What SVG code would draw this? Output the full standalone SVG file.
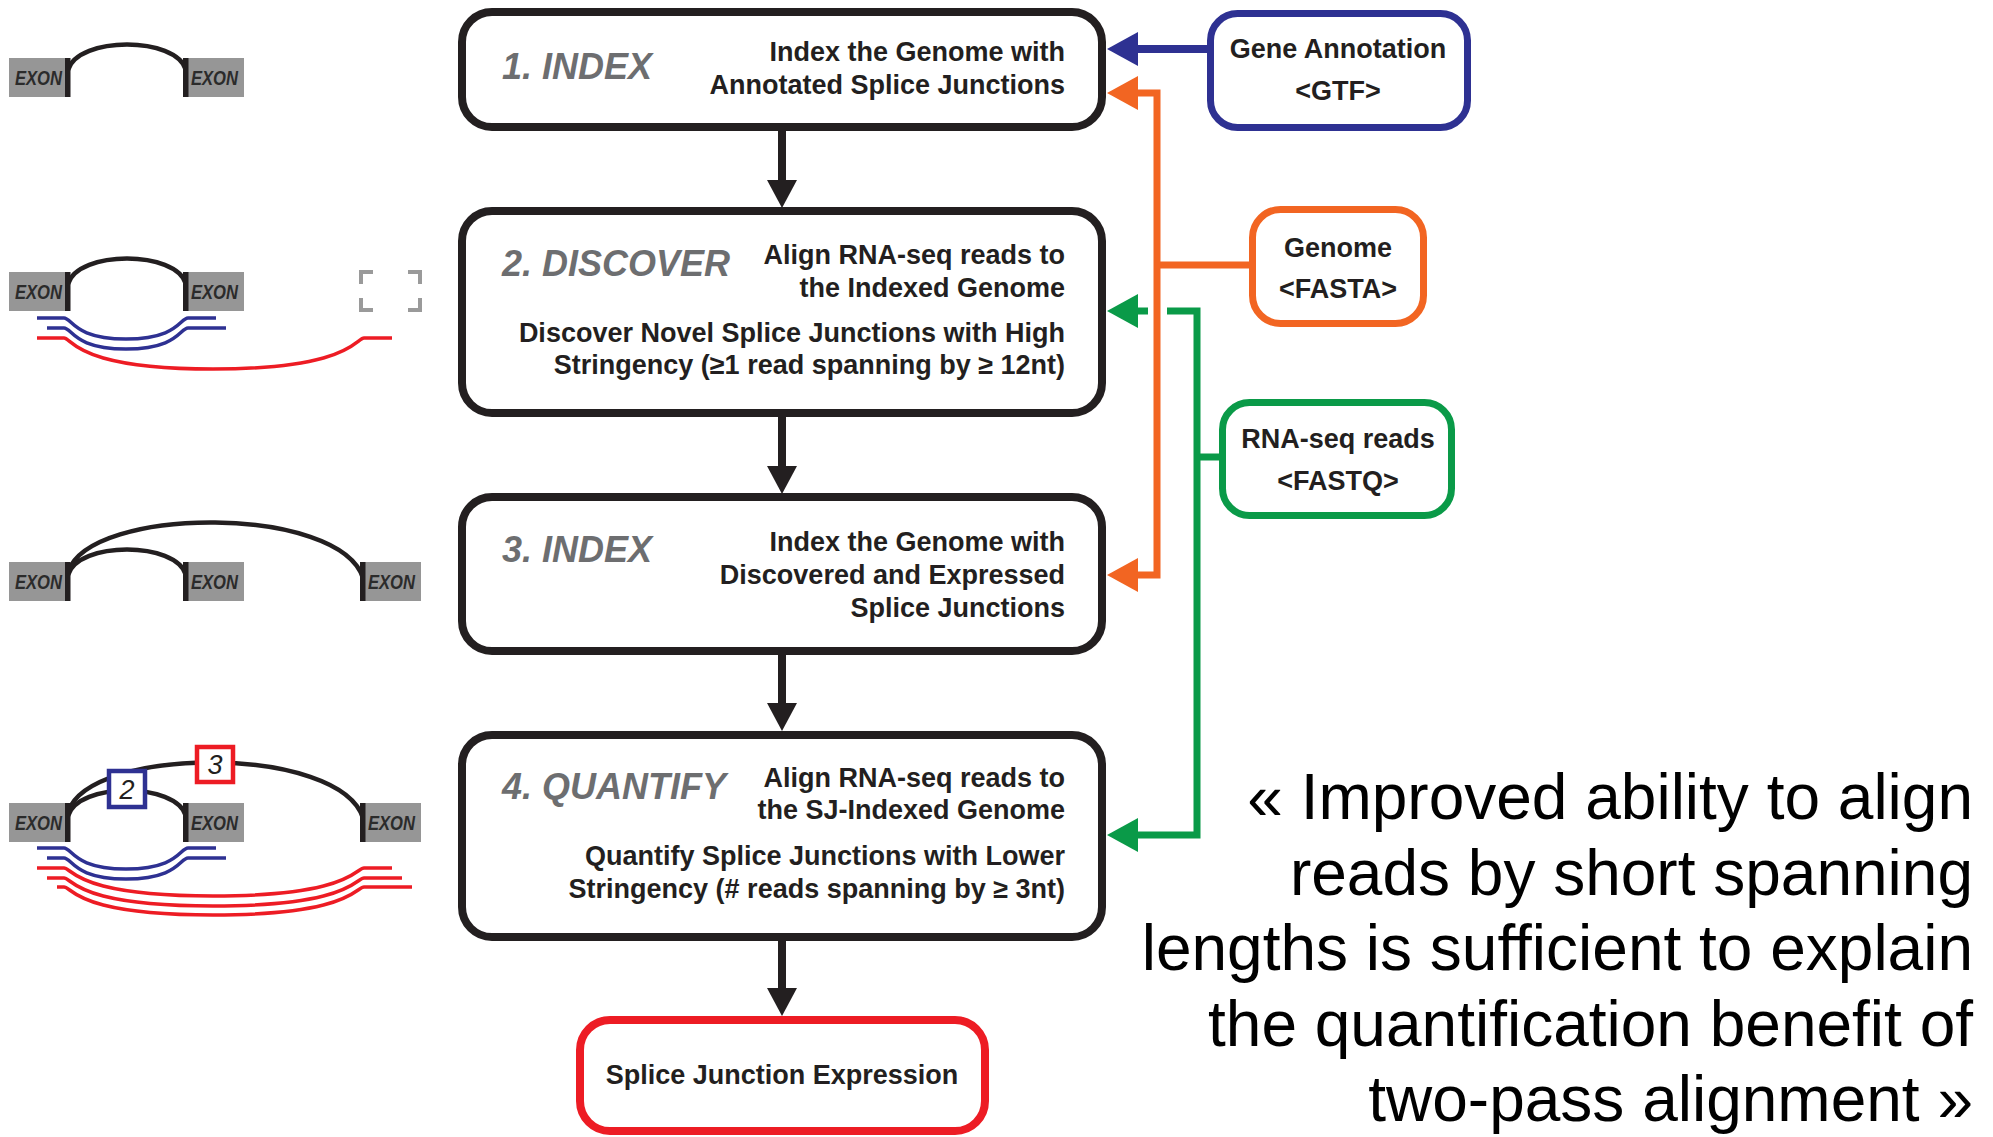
<svg xmlns="http://www.w3.org/2000/svg" width="1993" height="1137" viewBox="0 0 1993 1137">
  <style>
    .step { fill: #ffffff; stroke: #231f20; stroke-width: 8; }
    .head { font-family: "Liberation Sans", Arial, sans-serif; font-style: italic; font-weight: bold; font-size: 36px; fill: #6d6e70; }
    .body { font-family: "Liberation Sans", Arial, sans-serif; font-weight: bold; font-size: 27px; fill: #231f20; text-anchor: end; }
    .lbl { font-family: "Liberation Sans", Arial, sans-serif; font-weight: bold; font-size: 27px; fill: #231f20; text-anchor: middle; }
    .quote { font-family: "Liberation Sans", Arial, sans-serif; font-size: 64px; fill: #000000; text-anchor: end; }
    .exon { fill: #969696; }
    .exontxt { font-family: "Liberation Sans", Arial, sans-serif; font-style: italic; font-weight: bold; font-size: 20px; fill: #2b2b2b; }
    .bar { fill: #231f20; }
    .arc { fill: none; stroke: #231f20; stroke-width: 4.5; }
    .rb { fill: none; stroke: #2e3192; stroke-width: 3.5; }
    .rr { fill: none; stroke: #ed1c24; stroke-width: 3.5; }
    .flow { stroke: #231f20; stroke-width: 8; fill: none; }
    .cb { stroke: #2e3192; stroke-width: 8; fill: none; }
    .co { stroke: #f26522; stroke-width: 7; fill: none; }
    .cg { stroke: #0a9a48; stroke-width: 7; fill: none; }
  </style>

  <!-- gene models beside each step -->
  <g id="model-1">
    <rect class="exon" x="9" y="58" width="59" height="39"/>
    <rect class="exon" x="185" y="58" width="59" height="39"/>
    <text class="exontxt" x="15" y="85" textLength="47" lengthAdjust="spacingAndGlyphs">EXON</text>
    <text class="exontxt" x="191" y="85" textLength="47" lengthAdjust="spacingAndGlyphs">EXON</text>
    <path class="arc" d="M68,70 C78,36 176,36 186,70"/>
    <rect class="bar" x="65" y="58" width="5.5" height="39"/>
    <rect class="bar" x="183" y="58" width="5.5" height="39"/>
  </g>

  <g id="model-2">
    <rect class="exon" x="9" y="272" width="59" height="39"/>
    <rect class="exon" x="185" y="272" width="59" height="39"/>
    <text class="exontxt" x="15" y="299" textLength="47" lengthAdjust="spacingAndGlyphs">EXON</text>
    <text class="exontxt" x="191" y="299" textLength="47" lengthAdjust="spacingAndGlyphs">EXON</text>
    <path class="arc" d="M68,284 C78,250 176,250 186,284"/>
    <rect class="bar" x="65" y="272" width="5.5" height="39"/>
    <rect class="bar" x="183" y="272" width="5.5" height="39"/>
    <path class="rb" d="M37,318 H64 C72,318 74,339 126,339 C178,339 180,318 188,318 H216"/>
    <path class="rb" d="M47,328 H64 C72,328 74,349 126,349 C178,349 180,328 188,328 H226"/>
    <path class="rr" d="M37,338 H64 C72,338 76,369 213,369 C350,369 356,338 364,338 H392"/>
    <path d="M373,272 H361 V284 M408,272 H420 V284 M361,298 V310 H373 M420,298 V310 H408" fill="none" stroke="#9a9a9a" stroke-width="4"/>
  </g>

  <g id="model-3">
    <rect class="exon" x="9" y="562" width="59" height="39"/>
    <rect class="exon" x="185" y="562" width="59" height="39"/>
    <rect class="exon" x="362" y="562" width="59" height="39"/>
    <text class="exontxt" x="15" y="589" textLength="47" lengthAdjust="spacingAndGlyphs">EXON</text>
    <text class="exontxt" x="191" y="589" textLength="47" lengthAdjust="spacingAndGlyphs">EXON</text>
    <text class="exontxt" x="368" y="589" textLength="47" lengthAdjust="spacingAndGlyphs">EXON</text>
    <path class="arc" d="M68,575 C78,541 176,541 186,575"/>
    <path class="arc" d="M68,572 C90,505 340,505 363,578"/>
    <rect class="bar" x="65" y="562" width="5.5" height="39"/>
    <rect class="bar" x="183" y="562" width="5.5" height="39"/>
    <rect class="bar" x="360" y="562" width="5.5" height="39"/>
  </g>

  <g id="model-4">
    <rect class="exon" x="9" y="803" width="59" height="39"/>
    <rect class="exon" x="185" y="803" width="59" height="39"/>
    <rect class="exon" x="362" y="803" width="59" height="39"/>
    <text class="exontxt" x="15" y="830" textLength="47" lengthAdjust="spacingAndGlyphs">EXON</text>
    <text class="exontxt" x="191" y="830" textLength="47" lengthAdjust="spacingAndGlyphs">EXON</text>
    <text class="exontxt" x="368" y="830" textLength="47" lengthAdjust="spacingAndGlyphs">EXON</text>
    <path class="arc" d="M68,816 C78,782 176,782 186,816"/>
    <path class="arc" d="M68,812 C90,745 340,745 363,818"/>
    <rect class="bar" x="65" y="803" width="5.5" height="39"/>
    <rect class="bar" x="183" y="803" width="5.5" height="39"/>
    <rect class="bar" x="360" y="803" width="5.5" height="39"/>
    <rect x="109" y="771" width="36" height="36" fill="#ffffff" stroke="#2e3192" stroke-width="4.5"/>
    <text x="127" y="799" font-family="Liberation Sans, Arial, sans-serif" font-style="italic" font-size="27" fill="#231f20" text-anchor="middle">2</text>
    <rect x="197" y="747" width="36" height="35" fill="#ffffff" stroke="#ed1c24" stroke-width="4.5"/>
    <text x="215" y="774" font-family="Liberation Sans, Arial, sans-serif" font-style="italic" font-size="27" fill="#231f20" text-anchor="middle">3</text>
    <path class="rb" d="M37,848 H64 C72,848 74,869 126,869 C178,869 180,848 188,848 H216"/>
    <path class="rb" d="M47,858 H64 C72,858 74,879 126,879 C178,879 180,858 188,858 H226"/>
    <path class="rr" d="M37,868 H64 C72,868 76,896 213,896 C350,896 356,868 364,868 H392"/>
    <path class="rr" d="M47,878 H64 C72,878 76,906 213,906 C350,906 356,878 364,878 H402"/>
    <path class="rr" d="M57,887 H64 C72,887 76,915 213,915 C350,915 356,887 364,887 H412"/>
  </g>

  <!-- pipeline steps -->
  <g id="step-1">
    <rect class="step" x="462" y="12" width="640" height="115" rx="30"/>
    <text class="head" x="502" y="79">1. INDEX</text>
    <text class="body" x="1065" y="61">Index the Genome with</text>
    <text class="body" x="1065" y="94">Annotated Splice Junctions</text>
  </g>

  <g id="step-2">
    <rect class="step" x="462" y="211" width="640" height="202" rx="30"/>
    <text class="head" x="502" y="276">2. DISCOVER</text>
    <text class="body" x="1065" y="264">Align RNA-seq reads to</text>
    <text class="body" x="1065" y="297">the Indexed Genome</text>
    <text class="body" x="1065" y="342">Discover Novel Splice Junctions with High</text>
    <text class="body" x="1065" y="374">Stringency (≥1 read spanning by ≥ 12nt)</text>
  </g>

  <g id="step-3">
    <rect class="step" x="462" y="497" width="640" height="154" rx="30"/>
    <text class="head" x="502" y="562">3. INDEX</text>
    <text class="body" x="1065" y="551">Index the Genome with</text>
    <text class="body" x="1065" y="584">Discovered and Expressed</text>
    <text class="body" x="1065" y="617">Splice Junctions</text>
  </g>

  <g id="step-4">
    <rect class="step" x="462" y="735" width="640" height="202" rx="30"/>
    <text class="head" x="502" y="799">4. QUANTIFY</text>
    <text class="body" x="1065" y="787">Align RNA-seq reads to</text>
    <text class="body" x="1065" y="819">the SJ-Indexed Genome</text>
    <text class="body" x="1065" y="865">Quantify Splice Junctions with Lower</text>
    <text class="body" x="1065" y="898">Stringency (# reads spanning by ≥ 3nt)</text>
  </g>

  <g id="output">
    <rect x="580" y="1020" width="405" height="111" rx="30" fill="#ffffff" stroke="#ed1c24" stroke-width="8"/>
    <text class="lbl" x="782" y="1084">Splice Junction Expression</text>
  </g>

  <!-- inputs -->
  <g id="input-gtf">
    <rect x="1210.5" y="13.5" width="257" height="114" rx="27" fill="#ffffff" stroke="#2e3192" stroke-width="7"/>
    <text class="lbl" x="1338" y="58">Gene Annotation</text>
    <text class="lbl" x="1338" y="100">&lt;GTF&gt;</text>
  </g>

  <g id="input-fasta">
    <rect x="1252.5" y="209.5" width="171" height="114" rx="28" fill="#ffffff" stroke="#f26522" stroke-width="7"/>
    <text class="lbl" x="1338" y="257">Genome</text>
    <text class="lbl" x="1338" y="298">&lt;FASTA&gt;</text>
  </g>

  <g id="input-fastq">
    <rect x="1222.5" y="402.5" width="229" height="113" rx="27" fill="#ffffff" stroke="#0a9a48" stroke-width="7"/>
    <text class="lbl" x="1338" y="448">RNA-seq reads</text>
    <text class="lbl" x="1338" y="490">&lt;FASTQ&gt;</text>
  </g>

  <!-- connectors -->
  <g id="connectors">
    <!-- step to step -->
    <line class="flow" x1="782" y1="131" x2="782" y2="182"/>
    <polygon points="767,180 797,180 782,208" fill="#231f20"/>
    <line class="flow" x1="782" y1="417" x2="782" y2="468"/>
    <polygon points="767,466 797,466 782,494" fill="#231f20"/>
    <line class="flow" x1="782" y1="655" x2="782" y2="705"/>
    <polygon points="767,703 797,703 782,731" fill="#231f20"/>
    <line class="flow" x1="782" y1="941" x2="782" y2="990"/>
    <polygon points="767,988 797,988 782,1016" fill="#231f20"/>

    <!-- annotation feed -->
    <line class="cb" x1="1207" y1="49" x2="1135" y2="49"/>
    <polygon points="1107,49 1138,32 1138,66" fill="#2e3192"/>

    <!-- genome feed -->
    <path class="co" d="M1249,265 H1157 M1157,89.5 V578.5 M1160.5,93 H1135 M1160.5,575 H1135"/>
    <polygon points="1107,93 1138,76 1138,110" fill="#f26522"/>
    <polygon points="1107,575 1138,558 1138,592" fill="#f26522"/>

    <!-- reads feed -->
    <path class="cg" d="M1219,457 H1197 M1197,307.5 V838.5 M1200.5,311 H1167 M1148,311 H1135 M1200.5,835 H1135"/>
    <polygon points="1107,311 1138,294 1138,328" fill="#0a9a48"/>
    <polygon points="1107,835 1138,818 1138,852" fill="#0a9a48"/>
  </g>

  <!-- closing remark -->
  <g id="remark">
    <text class="quote" x="1973" y="819">« Improved ability to align</text>
    <text class="quote" x="1973" y="895">reads by short spanning</text>
    <text class="quote" x="1973" y="970">lengths is sufficient to explain</text>
    <text class="quote" x="1973" y="1046">the quantification benefit of</text>
    <text class="quote" x="1973" y="1121">two-pass alignment »</text>
  </g>
</svg>
